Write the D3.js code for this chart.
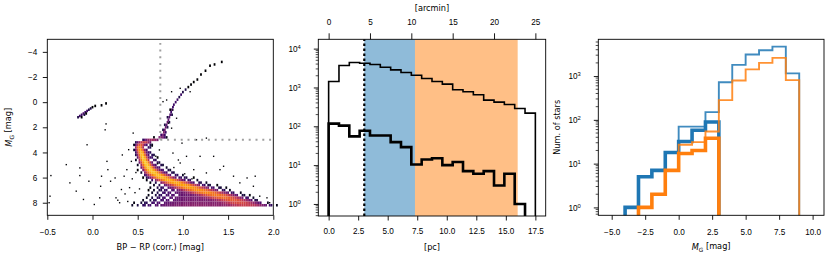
<!DOCTYPE html>
<html>
<head>
<meta charset="utf-8">
<script src="https://cdn.jsdelivr.net/npm/d3@7"></script>
<style>
body { margin: 0; background: #fff; }
svg { font-family: "DejaVu Sans", sans-serif; }
.tk text { font-size: 8.2px; fill: #000; }
.tk line { stroke: #000; stroke-width: 0.9; }
.lbl { font-size: 8.2px; fill: #000; }
</style>
</head>
<body>
<svg id="fig" width="830" height="259"></svg>
<script>
// ---------- panel 1 : colour-magnitude diagram (2d histogram) ----------
// rows of the main sequence: abs. mag, ridge colour, peak count, core width,
// broad halo centre, halo width, halo peak
var msMag      = [2.8, 3.0, 3.2, 3.4, 3.6, 3.8, 4.0, 4.2, 4.4, 4.6, 4.8, 5.0, 5.2, 5.4, 5.6, 5.8, 6.0, 6.2, 6.4, 6.6, 6.8, 7.0, 7.2, 7.4, 7.6, 7.8, 8.0, 8.2];
var msRidge    = [0.76, 0.66, 0.57, 0.53, 0.52, 0.53, 0.54, 0.55, 0.56, 0.57, 0.585, 0.60, 0.62, 0.645, 0.675, 0.72, 0.77, 0.84, 0.92, 1.00, 1.08, 1.17, 1.27, 1.37, 1.46, 1.55, 1.63, 1.70];
var msPeak     = [6, 10, 22, 40, 70, 100, 130, 150, 160, 160, 160, 160, 160, 150, 145, 135, 125, 115, 105, 95, 85, 75, 65, 55, 45, 35, 25, 18];
var msWidth    = [0.03, 0.05, 0.035, 0.022, 0.02, 0.02, 0.02, 0.02, 0.021, 0.022, 0.024, 0.026, 0.029, 0.034, 0.04, 0.046, 0.052, 0.058, 0.065, 0.072, 0.078, 0.083, 0.088, 0.09, 0.09, 0.09, 0.1, 0.12];
var haloCol    = [0.74, 0.66, 0.58, 0.56, 0.56, 0.56, 0.57, 0.58, 0.59, 0.61, 0.63, 0.65, 0.67, 0.70, 0.74, 0.79, 0.84, 0.90, 0.96, 1.01, 1.06, 1.10, 1.14, 1.17, 1.19, 1.20, 1.20, 1.20];
var haloWidth  = [0.05, 0.07, 0.07, 0.07, 0.07, 0.07, 0.07, 0.08, 0.08, 0.09, 0.09, 0.10, 0.11, 0.12, 0.13, 0.15, 0.17, 0.19, 0.21, 0.23, 0.25, 0.27, 0.29, 0.31, 0.33, 0.35, 0.38, 0.40];
var haloPeak   = [2, 3, 4, 4, 4, 4, 4, 4, 4, 4, 4, 4, 4, 4, 4, 4, 4, 4, 4, 4, 5, 5, 6, 6, 7, 7, 8, 9];

// giant branch + horizontal branch cells: colour, mag, count
var giantCells = [
  [0.76, 2.6, 3], [0.78, 2.6, 6], [0.80, 2.6, 3], [0.79, 2.4, 8], [0.81, 2.4, 3], [0.80, 2.2, 6], [0.78, 2.2, 2],
  [0.81, 2.0, 6], [0.83, 2.0, 2], [0.82, 1.8, 5], [0.80, 1.8, 2], [0.83, 1.6, 6], [0.85, 1.6, 2], [0.84, 1.4, 5],
  [0.85, 1.2, 4], [0.83, 1.2, 2], [0.86, 1.0, 4], [0.88, 1.0, 2], [0.87, 0.8, 3], [0.88, 0.6, 4], [0.86, 0.6, 1],
  [0.89, 0.4, 3], [0.90, 0.2, 3], [0.92, 0.0, 3], [0.94, -0.2, 3], [0.96, -0.4, 2], [0.98, -0.6, 3], [1.00, -0.8, 2],
  [1.03, -1.0, 2], [1.06, -1.2, 1], [1.09, -1.4, 1], [1.12, -1.6, 1], [1.16, -1.8, 1], [1.20, -2.2, 1],
  [1.25, -2.5, 1], [1.30, -2.9, 1], [1.35, -3.0, 1], [1.43, -3.2, 1],
  [-0.16, 1.2, 2], [-0.14, 1.1, 3], [-0.12, 1.0, 3], [-0.10, 0.9, 4], [-0.08, 0.8, 3], [-0.06, 0.7, 3],
  [-0.04, 0.6, 2], [-0.02, 0.5, 2], [0.0, 0.4, 1], [0.03, 0.3, 1], [0.10, 0.25, 1], [0.15, 0.1, 1],
  [-0.12, 1.2, 1], [-0.09, 1.0, 2], [-0.07, 0.9, 1]
];

// lone field stars (single counts)
var fieldCol = [-0.47, -0.48, -0.46, -0.29, -0.25, -0.18, -0.14, -0.14, -0.06, -0.04, -0.10, 0.02, 0.08, 0.09, 0.10, 0.15, 0.14, 0.16, 0.17, 0.20, 0.25, 0.26, 0.30, 0.32, 0.35, 0.38, 0.40, 0.43, 0.45, 0.46,
                1.19, 1.34, 1.41, 1.45, 1.56, 1.63, 1.71, 1.80, 1.78, 1.85, 1.93, 1.96, 1.04, 1.12, 1.26, 0.97, 0.89, 0.99, 1.15, 1.26, 0.82, 0.875, 0.97, 1.08, 0.89, 0.93, 0.78, 0.84, 0.875,
                0.36, 0.41, 0.44, 0.39, 0.48, 0.52, 0.70, 0.74, 0.72, 0.90, 0.95, 1.02, 1.10, 0.66, 0.47, 0.33, 0.28];
var fieldMag = [7.48, 8.0, 5.84, 4.97, 6.42, 7.08, 5.84, 5.23, 3.39, 6.29, 7.74, 8.14, 7.61, 6.69, 5.89, 1.73, 2.2, 4.71, 5.37, 6.29, 6.03, 7.61, 8.0, 6.95, 5.89, 5.37, 3.78, 4.71, 2.46, 3.39,
                4.31, 4.31, 5.37, 5.1, 5.89, 6.42, 6.03, 5.89, 6.69, 7.48, 7.61, 8.0, 4.31, 5.37, 5.63, 4.84, 4.05, 3.26, 2.99, 2.86, -0.17, -0.83, -1.1, -0.83, 0.62, 1.28, -0.04, 1.67, 2.07,
                7.3, 6.8, 6.1, 7.9, 5.6, 6.9, 4.3, 3.8, 4.9, 5.2, 4.6, 5.7, 6.1, 3.5, 7.2, 4.2, 7.8];

// ---------- panel 2 : radial histograms ----------
var radEdges  = [0, 1.25, 2.5, 3.75, 5, 6.25, 7.5, 8.75, 10, 11.25, 12.5, 13.75, 15, 16.25, 17.5, 18.75, 20, 21.25, 22.5, 23.75, 25]; // arcmin
var radAll    = [1425, 3660, 4380, 4210, 3890, 3320, 2840, 2425, 2070, 1700, 1425, 1220, 870, 775, 650, 473, 420, 365, 287, 218];
var radBright = [117, 104, 55, 77, 58, 58, 39, 29, 10.4, 14, 15, 10, 12, 7, 6, 7, 3, 6, 1, 0];
var rCore = 4.31, rMid = 10.44, rOut = 22.86;   // arcmin
var pcPerArcmin = 0.7;

// ---------- panel 3 : luminosity functions ----------
var magEdges     = [-4, -3, -2, -1, 0, 1, 2, 3, 4, 5, 6, 7, 8, 9];
var innerAll     = [1, 5, 7, 18, 70, 70, 150, 720, 1800, 3100, 3900, 4700, 1150];
var innerBright  = [1, 5, 7, 18, 32, 58, 89, 0, 0, 0, 0, 0, 0];
var outerAll     = [0, 1, 2, 7, 27, 31, 54, 283, 790, 1420, 2000, 2600, 810];
var outerBright  = [0, 1, 2, 7, 17, 20, 38, 0, 0, 0, 0, 0, 0];

var svg = d3.select("#fig");
var blue = "#1f77b4", orange = "#ff7f0e";
var TL = 4.5;

function fixAxis(g) {
  g.select(".domain").remove();
  g.attr("class", "tk");
}
function logTicks(g) {
  g.selectAll(".tick text").each(function(d) {
    var t = d3.select(this).text("");
    t.append("tspan").text("10");
    t.append("tspan").attr("dy", "-0.5em").attr("font-size", "5.8px").text(Math.round(Math.log10(d)));
  });
}
function minorLog(g, y, x0, dom) {
  var vals = [];
  for (var k = -1; k <= 4; k++) for (var j = 2; j <= 9; j++) {
    var v = j * Math.pow(10, k);
    if (v >= dom[0] && v <= dom[1]) vals.push(v);
  }
  g.selectAll("line.mn").data(vals).enter().append("line")
    .attr("x1", x0).attr("x2", x0 - 2.6)
    .attr("y1", d => y(d)).attr("y2", d => y(d))
    .attr("stroke", "#000").attr("stroke-width", 0.7);
}
function frame(x0, x1, y0, y1) {
  svg.append("rect").attr("x", x0).attr("y", y0).attr("width", x1 - x0).attr("height", y1 - y0)
    .attr("fill", "none").attr("stroke", "#000").attr("stroke-width", 0.9);
}
function stepPath(edges, vals, base) {
  var pts = [[edges[0], base]];
  vals.forEach(function(v, i) {
    var vv = v > 0 ? v : base;
    pts.push([edges[i], vv]);
    pts.push([edges[i + 1], vv]);
  });
  pts.push([edges[edges.length - 1], base]);
  return pts;
}

// ================= panel 1 =================
var p1 = {l: 47.3, r: 273.3, t: 39.3, b: 215.3};
var x1 = d3.scaleLinear().domain([-0.5, 2.0]).range([p1.l, p1.r]);
var y1 = d3.scaleLinear().domain([-5, 9]).range([p1.t, p1.b]);
var cmap = d3.scaleSequentialLog(d3.interpolateInferno).domain([1, 340]);
var cBin = 0.02, mBin = 0.2;

var cells = [];
msMag.forEach(function(m, r) {
  var lo = Math.min(msRidge[r] - 4 * msWidth[r], haloCol[r] - 2 * haloWidth[r]);
  var hi = Math.max(msRidge[r] + 4 * msWidth[r], haloCol[r] + 2 * haloWidth[r]);
  for (var i = Math.floor(lo / cBin); i <= Math.ceil(hi / cBin); i++) {
    var c = i * cBin;
    var n = msPeak[r] * Math.exp(-0.5 * Math.pow((c - msRidge[r]) / msWidth[r], 2)) +
            haloPeak[r] * Math.exp(-0.5 * Math.pow((c - haloCol[r]) / haloWidth[r], 2));
    if (n < 1) continue;
    // thin out the sparse wings so they read as speckle
    var k = (i * 37 + r * 17) % 7;
    if (n < 2 && k < 5) continue;
    if (n < 5 && k < 3) continue;
    cells.push({c: c, m: m, w: cBin, h: mBin, n: n});
  }
});
giantCells.forEach(function(d) { cells.push({c: d[0], m: d[1], w: cBin, h: mBin, n: d[2]}); });
fieldCol.forEach(function(c, i) { cells.push({c: c, m: fieldMag[i], w: 0.015, h: 0.11, n: 1}); });

var g1 = svg.append("g");
g1.selectAll("rect").data(cells).enter().append("rect")
  .attr("x", d => x1(d.c - d.w / 2))
  .attr("width", d => x1(d.c + d.w / 2) - x1(d.c - d.w / 2))
  .attr("y", d => y1(d.m - d.h / 2))
  .attr("height", d => y1(d.m + d.h / 2) - y1(d.m - d.h / 2))
  .attr("fill", d => cmap(d.n));

// turn-off guide lines
svg.append("line").attr("x1", x1(0.75)).attr("x2", x1(0.75)).attr("y1", y1(3)).attr("y2", y1(-4.7))
  .attr("stroke", "#a0a0a0").attr("stroke-width", 2).attr("stroke-dasharray", "2,4.8");
svg.append("line").attr("x1", x1(0.75)).attr("x2", x1(2.0)).attr("y1", y1(3)).attr("y2", y1(3))
  .attr("stroke", "#a0a0a0").attr("stroke-width", 2).attr("stroke-dasharray", "2,4.8");

svg.append("g").attr("transform", "translate(0," + p1.b + ")")
  .call(d3.axisBottom(x1).tickValues([-0.5, 0, 0.5, 1.0, 1.5, 2.0]).tickFormat(d3.format(".1f")).tickSize(TL).tickPadding(9))
  .call(fixAxis);
svg.append("g").attr("transform", "translate(" + p1.l + ",0)")
  .call(d3.axisLeft(y1).tickValues([-4, -2, 0, 2, 4, 6, 8]).tickFormat(d3.format("d")).tickSize(TL).tickPadding(5.5))
  .call(fixAxis);
frame(p1.l, p1.r, p1.t, p1.b);
svg.append("text").attr("class", "lbl").attr("x", (p1.l + p1.r) / 2).attr("y", 250)
  .attr("text-anchor", "middle").text("BP \u2212 RP (corr.) [mag]");
var yl1 = svg.append("text").attr("class", "lbl").attr("text-anchor", "middle")
  .attr("transform", "translate(12," + (p1.t + p1.b) / 2 + ") rotate(-90)");
yl1.append("tspan").attr("font-style", "italic").text("M");
yl1.append("tspan").attr("font-size", "5.8px").attr("dy", "0.3em").text("G");
yl1.append("tspan").attr("dy", "-0.3em").text(" [mag]");

// ================= panel 2 =================
var p2 = {l: 318.3, r: 545.7, t: 39.3, b: 216};
var x2 = d3.scaleLinear().domain([-1.25, 26.25]).range([p2.l, p2.r]);
var x2pc = d3.scaleLinear().domain([-1.25 * pcPerArcmin, 26.25 * pcPerArcmin]).range([p2.l, p2.r]);
var y2dom = [Math.pow(10, -0.31), Math.pow(10, 4.24)];
var y2 = d3.scaleLog().domain(y2dom).range([p2.b, p2.t]);

svg.append("defs").append("clipPath").attr("id", "c2").append("rect")
  .attr("x", p2.l).attr("y", p2.t).attr("width", p2.r - p2.l).attr("height", p2.b - p2.t);
svg.select("defs").append("clipPath").attr("id", "c3").append("rect")
  .attr("x", 598.3).attr("y", 39.3).attr("width", 824 - 598.3).attr("height", 215.3 - 39.3);

var g2 = svg.append("g").attr("clip-path", "url(#c2)");
g2.append("rect").attr("x", x2(rCore)).attr("width", x2(rMid) - x2(rCore))
  .attr("y", p2.t).attr("height", p2.b - p2.t).attr("fill", blue).attr("fill-opacity", 0.5);
g2.append("rect").attr("x", x2(rMid)).attr("width", x2(rOut) - x2(rMid))
  .attr("y", p2.t).attr("height", p2.b - p2.t).attr("fill", orange).attr("fill-opacity", 0.5);
var line2 = d3.line().x(d => x2(d[0])).y(d => y2(d[1]));
g2.append("path").attr("d", line2(stepPath(radEdges, radAll, 0.05)))
  .attr("fill", "none").attr("stroke", "#000").attr("stroke-width", 1.6);
g2.append("path").attr("d", line2(stepPath(radEdges, radBright, 0.05)))
  .attr("fill", "none").attr("stroke", "#000").attr("stroke-width", 2.6);
g2.append("line").attr("x1", x2(rCore)).attr("x2", x2(rCore)).attr("y1", p2.b).attr("y2", p2.t)
  .attr("stroke", "#000").attr("stroke-width", 2.2).attr("stroke-dasharray", "2.5,2.5");

svg.append("g").attr("transform", "translate(0," + p2.b + ")")
  .call(d3.axisBottom(x2pc).tickValues([0, 2.5, 5, 7.5, 10, 12.5, 15, 17.5]).tickFormat(d3.format(".1f")).tickSize(TL).tickPadding(8))
  .call(fixAxis);
svg.append("g").attr("transform", "translate(0," + p2.t + ")")
  .call(d3.axisTop(x2).tickValues([0, 5, 10, 15, 20, 25]).tickFormat(d3.format("d")).tickSize(6).tickPadding(8))
  .call(fixAxis);
svg.append("g").attr("transform", "translate(" + p2.l + ",0)")
  .call(d3.axisLeft(y2).tickValues([1, 10, 100, 1000, 10000]).tickSize(TL).tickPadding(13))
  .call(fixAxis).call(logTicks);
minorLog(svg.append("g"), y2, p2.l, y2dom);
frame(p2.l, p2.r, p2.t, p2.b);
svg.append("text").attr("class", "lbl").attr("x", (p2.l + p2.r) / 2).attr("y", 249.5)
  .attr("text-anchor", "middle").text("[pc]");
svg.append("text").attr("class", "lbl").attr("x", (p2.l + p2.r) / 2).attr("y", 11)
  .attr("text-anchor", "middle").text("[arcmin]");

// ================= panel 3 =================
var p3 = {l: 598.3, r: 824, t: 39.3, b: 215.3};
var x3 = d3.scaleLinear().domain([-6.0, 10.85]).range([p3.l, p3.r]);
var y3dom = [Math.pow(10, -0.18), Math.pow(10, 3.84)];
var y3 = d3.scaleLog().domain(y3dom).range([p3.b, p3.t]);
var line3 = d3.line().x(d => x3(d[0])).y(d => y3(d[1]));
var g3 = svg.append("g").attr("clip-path", "url(#c3)");
[[innerBright, blue, 3.6], [innerAll, blue, 1.9], [outerBright, orange, 3.6], [outerAll, orange, 1.9]].forEach(function(s) {
  g3.append("path").attr("d", line3(stepPath(magEdges, s[0], 0.05)))
    .attr("fill", "none").attr("stroke", s[1]).attr("stroke-width", s[2])
    .attr("stroke-opacity", s[2] < 3 ? 0.85 : 1);
});
svg.append("g").attr("transform", "translate(0," + p3.b + ")")
  .call(d3.axisBottom(x3).tickValues([-5, -2.5, 0, 2.5, 5, 7.5, 10]).tickFormat(d3.format(".1f")).tickSize(TL).tickPadding(9))
  .call(fixAxis);
svg.append("g").attr("transform", "translate(" + p3.l + ",0)")
  .call(d3.axisLeft(y3).tickValues([1, 10, 100, 1000]).tickSize(TL).tickPadding(13))
  .call(fixAxis).call(logTicks);
minorLog(svg.append("g"), y3, p3.l, y3dom);
frame(p3.l, p3.r, p3.t, p3.b);
var xl3 = svg.append("text").attr("class", "lbl").attr("x", (p3.l + p3.r) / 2).attr("y", 250).attr("text-anchor", "middle");
xl3.append("tspan").attr("font-style", "italic").text("M");
xl3.append("tspan").attr("font-size", "5.8px").attr("dy", "0.3em").text("G");
xl3.append("tspan").attr("dy", "-0.3em").text(" [mag]");
svg.append("text").attr("class", "lbl").attr("text-anchor", "middle")
  .attr("transform", "translate(560," + (p3.t + p3.b) / 2 + ") rotate(-90)").text("Num. of stars");
</script>
</body>
</html>
